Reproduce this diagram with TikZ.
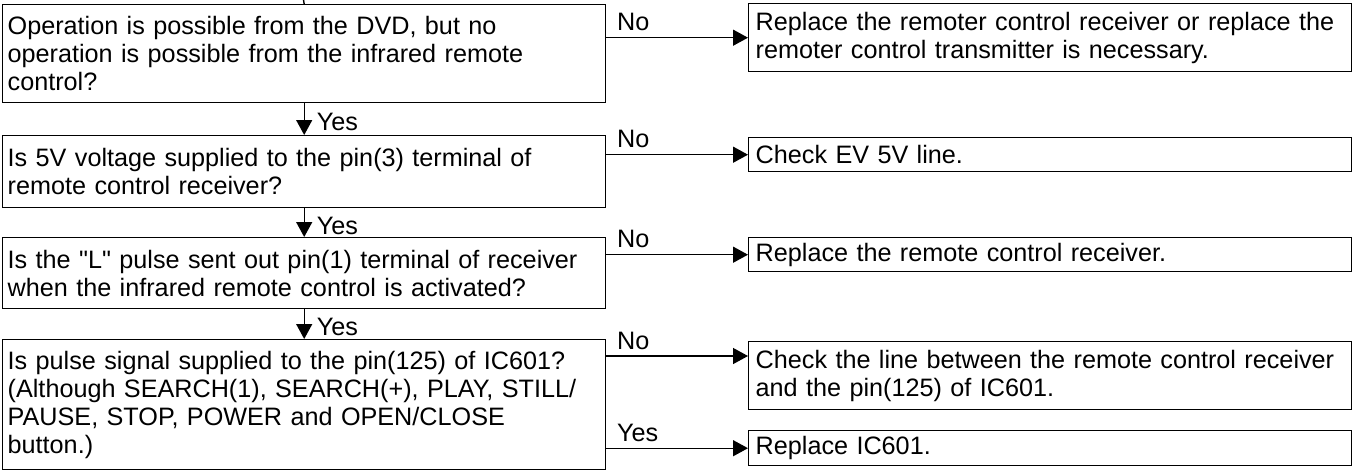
\documentclass[tikz,border=0pt]{standalone}
\usepackage{fontspec}
\setmainfont{Liberation Sans}[Ligatures=TeXOff]
\usepackage{tikz}
\usetikzlibrary{arrows.meta,positioning,calc}
\definecolor{inkBlack}{RGB}{0,0,0}
\hyphenpenalty=10000
\tikzset{
  askbox/.style={
    rectangle, draw=inkBlack, line width=0.7pt, anchor=north west,
    inner xsep=2.5pt, inner ysep=0pt, text width=296.5pt, align=left,
    font=\fontsize{12.6}{14}\selectfont
  },
  fixbox/.style={askbox, inner xsep=3.5pt, text width=294.5pt},
  answer/.style={font=\fontsize{12.6}{14}\selectfont, inner sep=0pt},
  flowArrow/.style={-{Triangle[length=7.5pt,width=8pt]}, line width=0.7pt, color=inkBlack}
}

\begin{document}
\begin{tikzpicture}[x=0.5pt, y=-0.5pt,
          noLabel/.style={answer, pos=0, anchor=south west, xshift=5pt, yshift=3pt},
          yesLabel/.style={answer, pos=0.6, right=6pt}]
        \useasboundingbox (0,0) rectangle (1353,471);
        \node[askbox, minimum height=49pt]   (q1) at (2,4)   {Operation is possible from the DVD, but no\\operation is possible from the infrared remote\\control?};
        \node[askbox, minimum height=36pt]   (q2) at (2,135) {Is 5V voltage supplied to the pin(3) terminal of\\remote control receiver?};
        \node[askbox, minimum height=35.5pt] (q3) at (2,237) {Is the "L" pulse sent out pin(1) terminal of receiver\\when the infrared remote control is activated?};
        \node[askbox, minimum height=65pt]   (q4) at (2,339) {Is pulse signal supplied to the pin(125) of IC601?\\(Although SEARCH(1), SEARCH(+), PLAY, STILL/\\PAUSE, STOP, POWER and OPEN/CLOSE\\button.)};
        \node[fixbox, minimum height=34pt]   (r1)  at (748,3)   {Replace the remoter control receiver or replace the\\remoter control transmitter is necessary.};
        \node[fixbox, minimum height=17pt]   (r2)  at (748,137) {Check EV 5V line.};
        \node[fixbox, minimum height=17pt]   (r3)  at (748,237) {Replace the remote control receiver.};
        \node[fixbox, minimum height=34pt]   (r4a) at (748,341) {Check the line between the remote control receiver\\and the pin(125) of IC601.};
        \node[fixbox, minimum height=17.5pt] (r4b) at (748,430) {Replace IC601.};
        \coordinate (entry) at (303.5,0);
        \coordinate (r4aIn) at ($(r4a.north west)+(0,15)$);
        \draw[line width=0.7pt] (entry) -- (q1.north);
        \draw[flowArrow] (q1.south) -- node[yesLabel]{Yes} (q2.north);
        \draw[flowArrow] (q2.south) -- node[yesLabel]{Yes} (q3.north);
        \draw[flowArrow] (q3.south) -- node[yesLabel]{Yes} (q4.north);
        \draw[flowArrow] (q1.east |- r1.west) -- node[noLabel]{No} (r1.west);
        \draw[flowArrow] (q2.east |- r2.west) -- node[noLabel]{No} (r2.west);
        \draw[flowArrow] (q3.east |- r3.west) -- node[noLabel]{No} (r3.west);
        \draw[flowArrow] (q4.east |- r4aIn)   -- node[noLabel]{No} (r4aIn);
        \draw[flowArrow] (q4.east |- r4b.west) -- node[noLabel]{Yes} (r4b.west);
      \end{tikzpicture}
\end{document}
